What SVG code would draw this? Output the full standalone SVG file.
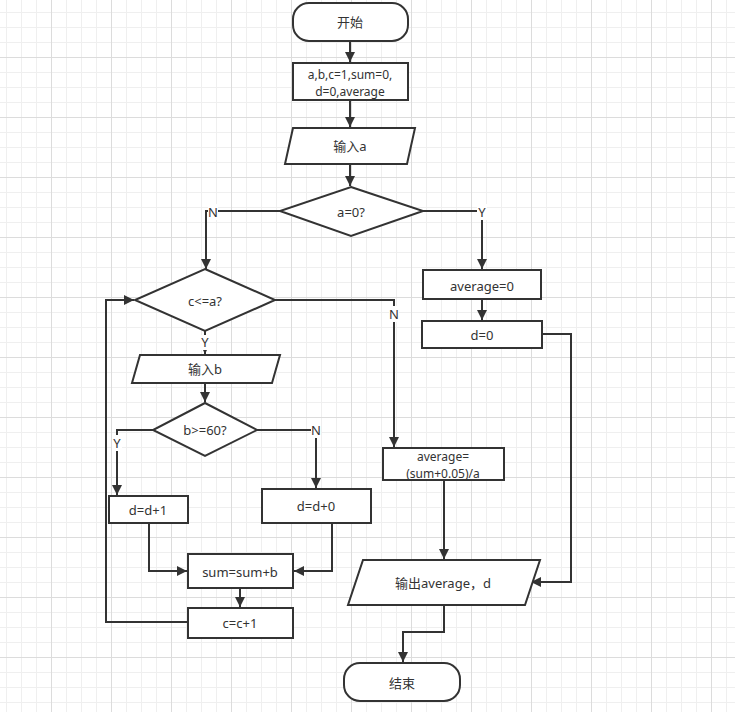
<svg xmlns="http://www.w3.org/2000/svg" width="735" height="712" viewBox="0 0 735 712">
<defs>
<pattern id="grid" x="51" y="57" width="60" height="60" patternUnits="userSpaceOnUse">
<path d="M15.5,0V60M30.5,0V60M45.5,0V60M0,15.5H60M0,30.5H60M0,45.5H60" stroke="#efefef" stroke-width="1" fill="none"/>
<path d="M0.5,0V60M0,0.5H60" stroke="#dcdcdc" stroke-width="1" fill="none"/>
</pattern>
<marker id="arr" viewBox="0 0 10 10" refX="10" refY="5" markerWidth="10" markerHeight="10" markerUnits="userSpaceOnUse" orient="auto">
<path d="M0,0L10,5L0,10z" fill="#333"/>
</marker>
<style>
.s{fill:#fff;stroke:#333;stroke-width:2}
.e{fill:none;stroke:#333;stroke-width:2;marker-end:url(#arr)}
.l{fill:none;stroke:#333;stroke-width:2}
text{font-family:"Noto Sans","Noto Sans CJK SC",sans-serif;font-size:13px;fill:#333;text-anchor:middle;dominant-baseline:central}
text.m{font-size:12px}
.bg{fill:#fff}
</style>
</defs>
<rect width="735" height="712" fill="#fff"/>
<rect width="735" height="712" fill="url(#grid)"/>

<g id="connectors">
<path class="e" d="M350,42V62"/>
<path class="e" d="M350,101V127"/>
<path class="e" d="M350,164V186"/>
<path class="e" d="M280,211H206V269"/>
<path class="e" d="M423,211H482V269"/>
<path class="e" d="M205,331V354"/>
<path class="e" d="M275,300H394V447"/>
<path class="e" d="M205,383V402"/>
<path class="e" d="M153,430H117V495"/>
<path class="e" d="M257,430H316V488"/>
<path class="e" d="M149,523V571H187"/>
<path class="e" d="M332,523V571H294"/>
<path class="e" d="M240,588V607"/>
<path class="e" d="M188,622H106V300H134"/>
<path class="e" d="M482,299V320"/>
<path class="e" d="M542,334H571V582H531"/>
<path class="e" d="M444,480V559"/>
<path class="e" d="M444,605V632H403V662"/>
<rect class="bg" x="208" y="204" width="10" height="16"/>
<text x="213" y="212">N</text>
<rect class="bg" x="477" y="204" width="10" height="16"/>
<text x="482" y="212">Y</text>
<rect class="bg" x="200" y="335" width="10" height="15"/>
<text x="205" y="342">Y</text>
<rect class="bg" x="389" y="306" width="10" height="16"/>
<text x="394" y="314">N</text>
<rect class="bg" x="112" y="435" width="10" height="16"/>
<text x="117" y="443">Y</text>
<rect class="bg" x="311" y="422" width="10" height="16"/>
<text x="316" y="430">N</text>
</g>

<g id="start"><rect class="s" x="293" y="3" width="115" height="38" rx="16"/><text x="350" y="22">开始</text></g>
<g id="init"><rect class="s" x="293" y="63" width="115" height="37"/><text class="m" x="350" y="74">a,b,c=1,sum=0,</text><text class="m" x="350" y="91">d=0,average</text></g>
<g id="inputA"><path class="s" d="M293,128H415L407,164H285Z"/><text x="350" y="146">输入a</text></g>
<g id="decA"><path class="s" d="M351,187L423,211L351,236L280,211Z"/><text x="351" y="212">a=0?</text></g>
<g id="decC"><path class="s" d="M205,269L275,300L205,331L135,300Z"/><text x="205" y="301">c&lt;=a?</text></g>
<g id="inputB"><path class="s" d="M140,355H280L272,383H132Z"/><text x="205" y="369">输入b</text></g>
<g id="decB"><path class="s" d="M205,403L257,430L205,456L153,430Z"/><text x="205" y="430">b&gt;=60?</text></g>
<g id="dplus1"><rect class="s" x="109" y="496" width="79" height="27"/><text x="148" y="510">d=d+1</text></g>
<g id="dplus0"><rect class="s" x="262" y="489" width="109" height="34"/><text x="316" y="506">d=d+0</text></g>
<g id="sum"><rect class="s" x="188" y="554" width="105" height="34"/><text x="240" y="572">sum=sum+b</text></g>
<g id="cinc"><rect class="s" x="188" y="608" width="105" height="30"/><text x="240" y="623">c=c+1</text></g>
<g id="avg0"><rect class="s" x="423" y="270" width="118" height="29"/><text x="482" y="286">average=0</text></g>
<g id="d0"><rect class="s" x="422" y="321" width="120" height="27"/><text x="482" y="335">d=0</text></g>
<g id="avgCalc"><rect class="s" x="383" y="448" width="121" height="32"/><text class="m" x="443" y="456">average=</text><text class="m" x="443" y="473">(sum+0.05)/a</text></g>
<g id="output"><path class="s" d="M363,560H540L525,605H348Z"/><text x="443" y="583">输出average，d</text></g>
<g id="end"><rect class="s" x="344" y="663" width="116" height="38" rx="16"/><text x="402" y="683">结束</text></g>
</svg>
